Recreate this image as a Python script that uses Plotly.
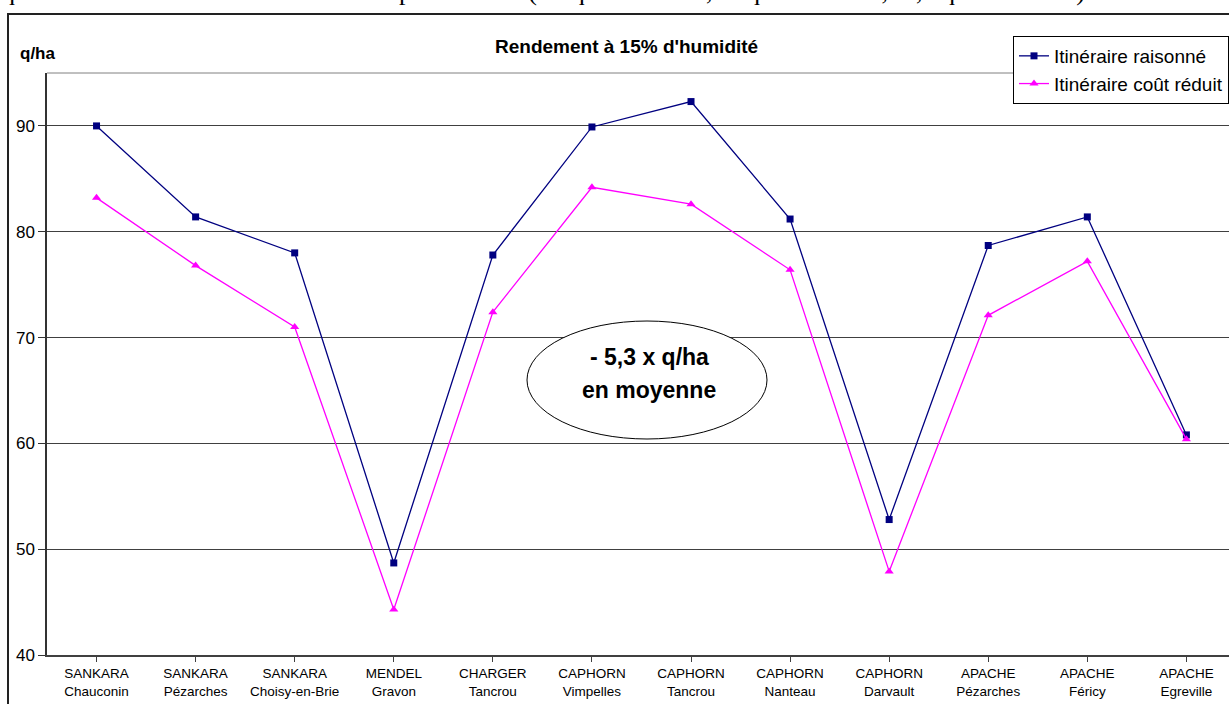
import plotly.graph_objects as go

# ---- data ----
varieties = ["SANKARA", "SANKARA", "SANKARA", "MENDEL", "CHARGER", "CAPHORN",
             "CAPHORN", "CAPHORN", "CAPHORN", "APACHE", "APACHE", "APACHE"]
sites = ["Chauconin", "Pézarches", "Choisy-en-Brie", "Gravon", "Tancrou", "Vimpelles",
         "Tancrou", "Nanteau", "Darvault", "Pézarches", "Féricy", "Egreville"]
raisonne = [90.0, 81.4, 78.0, 48.7, 77.8, 89.9, 92.3, 81.2, 52.8, 78.7, 81.4, 60.8]
cout_reduit = [83.2, 76.8, 71.0, 44.3, 72.4, 84.2, 82.6, 76.4, 47.9, 72.1, 77.2, 60.4]
y_ticks = [40, 50, 60, 70, 80, 90]

cats = [f"{v}<br>{s}" for v, s in zip(varieties, sites)]
idx = list(range(len(cats)))

# ---- geometry helpers (pixel -> paper) ----
W, H = 1229, 704
L, R, T, B = 47, 0, 73, 49
PW, PH = W - L - R, H - T - B
def px(x):
    return (x - L) / PW
def py(y):
    return (H - B - y) / PH

FONT = "Arial, Liberation Sans, sans-serif"

fig = go.Figure()
fig.add_trace(go.Scatter(
    x=idx, y=raisonne, mode="lines+markers", name="Itinéraire raisonné",
    line=dict(color="#000080", width=1.3),
    marker=dict(symbol="square", size=7, color="#000080"),
))
fig.add_trace(go.Scatter(
    x=idx, y=cout_reduit, mode="lines+markers", name="Itinéraire coût réduit",
    line=dict(color="#FF00FF", width=1.3),
    marker=dict(symbol="triangle-up", size=8, color="#FF00FF"),
))

shapes = [
    # outer chart frame (extends past window edges)
    dict(type="path", xref="paper", yref="paper",
         path=f"M {px(8)},{py(720)} L {px(8)},{py(14)} L {px(1260)},{py(14)}",
         line=dict(color="#222222", width=2)),
    # plot area top border
    dict(type="line", xref="paper", yref="paper", x0=0, x1=1, y0=1, y1=1,
         line=dict(color="#808080", width=1)),
    # ellipse callout
    dict(type="circle", xref="paper", yref="paper",
         x0=px(527), x1=px(767), y0=py(439), y1=py(321),
         fillcolor="white", line=dict(color="black", width=1), layer="above"),
]

annotations = [
    dict(text="que nous avons observées aux années précédentes ( -9 q/ha en 2005, -6 q/ha en 2004, -4,5 q/ha en 2003).",
         xref="paper", yref="paper", x=px(0), y=py(8), xanchor="left", yanchor="bottom",
         showarrow=False, font=dict(family="Liberation Serif, Times New Roman, serif", size=26, color="black")),
    dict(text="<b>Rendement à 15% d'humidité</b>", xref="paper", yref="paper",
         x=px(626), y=py(47), xanchor="center", yanchor="middle", showarrow=False,
         font=dict(family=FONT, size=19, color="black")),
    dict(text="<b>q/ha</b>", xref="paper", yref="paper",
         x=px(18), y=py(54), xanchor="left", yanchor="middle", showarrow=False,
         font=dict(family=FONT, size=17, color="black")),
    dict(text="<b>- 5,3 x q/ha</b>", xref="paper", yref="paper",
         x=px(649), y=py(357), xanchor="center", yanchor="middle", showarrow=False,
         font=dict(family=FONT, size=23, color="black")),
    dict(text="<b>en moyenne</b>", xref="paper", yref="paper",
         x=px(649), y=py(390), xanchor="center", yanchor="middle", showarrow=False,
         font=dict(family=FONT, size=23, color="black")),
]

fig.update_layout(
    width=W, height=H,
    margin=dict(l=L, r=R, t=T, b=B),
    paper_bgcolor="white", plot_bgcolor="white",
    font=dict(family=FONT, color="black"),
    showlegend=True,
    legend=dict(x=px(1013), y=py(36), xanchor="left", yanchor="top",
                bgcolor="white", bordercolor="black", borderwidth=1,
                font=dict(family=FONT, size=19, color="black"),
                tracegroupgap=0, itemwidth=30),
    shapes=shapes,
    annotations=annotations,
    xaxis=dict(
        range=[-0.5, 11.43], tickmode="array", tickvals=idx, ticktext=cats,
        tickangle=0, tickfont=dict(family=FONT, size=13.5, color="black"),
        showgrid=False, zeroline=False, showline=True, linecolor="#404040", linewidth=2,
        ticks="outside", ticklen=5, tickcolor="#404040", tickson="boundaries",
    ),
    yaxis=dict(
        range=[40, 95], tickmode="array", tickvals=y_ticks,
        tickfont=dict(family=FONT, size=17, color="black"),
        showgrid=True, gridcolor="#404040", gridwidth=1, zeroline=False,
        showline=True, linecolor="#333333", linewidth=1.5,
        ticks="outside", ticklen=7, tickcolor="#333333",
    ),
)

fig.write_html("out.html")
